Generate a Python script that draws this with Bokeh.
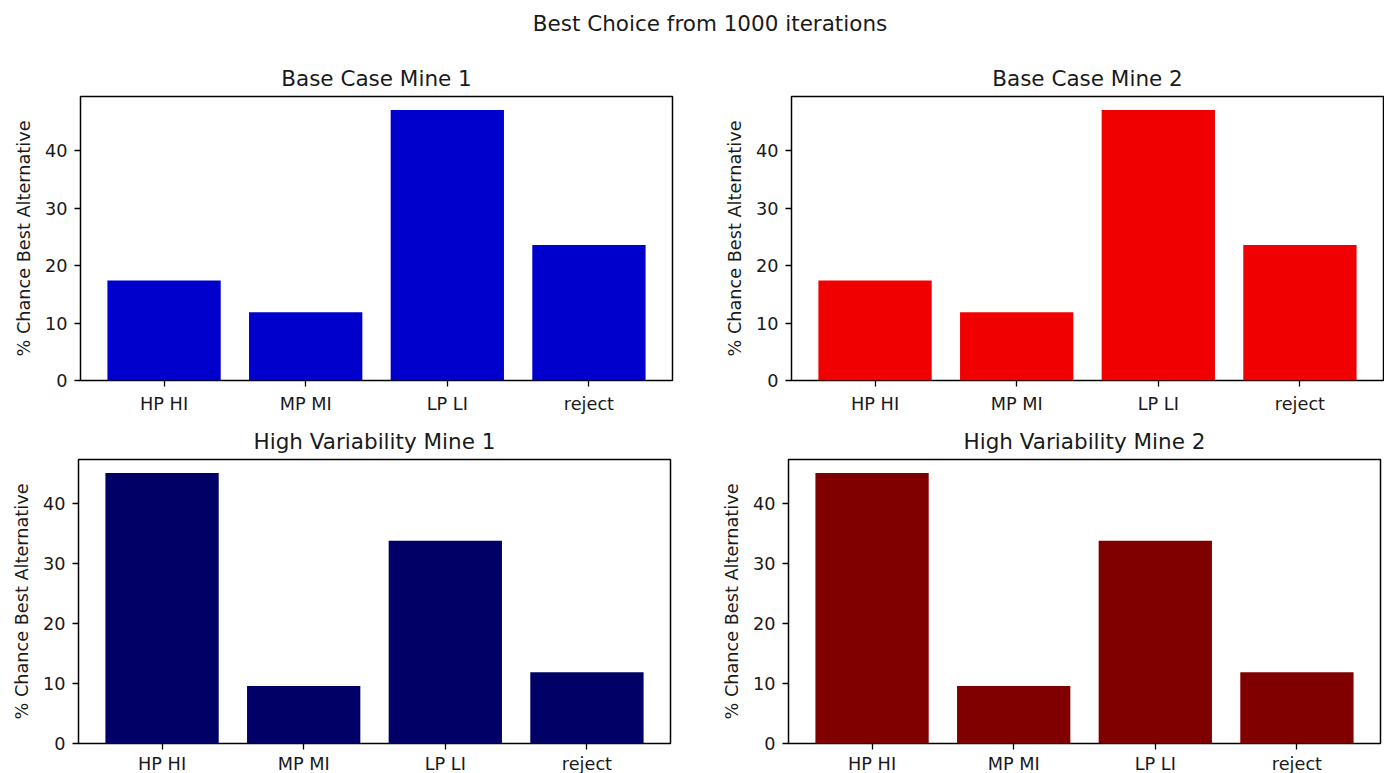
from bokeh.plotting import figure
from bokeh.models import Range1d, FixedTicker, Div
from bokeh.layouts import column, row
from bokeh.embed import file_html
from bokeh.resources import INLINE

categories = ["HP HI", "MP MI", "LP LI", "reject"]
base_mine1 = [17.4, 11.9, 47.1, 23.6]
base_mine2 = [17.4, 11.9, 47.1, 23.6]
highvar_mine1 = [45.1, 9.6, 33.8, 11.9]
highvar_mine2 = [45.1, 9.6, 33.8, 11.9]
y_ticks = [0, 10, 20, 30, 40]

FONT = "DejaVu Sans"
TXT = "#1a1a1a"


def make(title, values, color, ml, mr, mt, mb, xstand):
    x = list(range(len(categories)))
    p = figure(frame_width=592, frame_height=284, output_backend="svg",
               toolbar_location=None, tools="",
               x_range=Range1d(-0.59, len(categories) - 1 + 0.59),
               y_range=Range1d(0, max(values) * 1.05),
               min_border_left=ml, min_border_right=mr,
               min_border_top=mt, min_border_bottom=mb)
    p.vbar(x=x, top=values, width=0.8, bottom=0, fill_color=color, line_color=None)
    p.title.text = title
    p.title.align = "center"
    p.title.text_font = FONT
    p.title.text_font_size = "21.5px"
    p.title.text_font_style = "normal"
    p.title.text_color = TXT
    p.title.standoff = 12
    p.xgrid.visible = False
    p.ygrid.visible = False
    p.outline_line_color = "black"
    p.outline_line_width = 1.5
    p.outline_line_alpha = 1.0
    p.background_fill_color = "white"
    p.border_fill_color = "white"
    p.xaxis.ticker = FixedTicker(ticks=x)
    p.xaxis.major_label_overrides = {i: c for i, c in enumerate(categories)}
    p.yaxis.ticker = FixedTicker(ticks=y_ticks)
    p.yaxis.axis_label = "% Chance Best Alternative"
    for ax in (p.xaxis[0], p.yaxis[0]):
        ax.axis_line_color = None
        ax.major_tick_out = 6
        ax.major_tick_in = 0
        ax.major_tick_line_color = "black"
        ax.major_tick_line_width = 1.3
        ax.minor_tick_line_color = None
        ax.major_label_text_font = FONT
        ax.major_label_text_font_size = "17.7px"
        ax.major_label_text_color = TXT
        ax.major_label_standoff = 7
        ax.axis_label_text_font = FONT
        ax.axis_label_text_font_size = "17.7px"
        ax.axis_label_text_font_style = "normal"
        ax.axis_label_text_color = TXT
        ax.axis_label_standoff = 8
    p.xaxis[0].major_label_standoff = xstand
    return p


p1 = make("Base Case Mine 1", base_mine1, "#0000CC", 80, 47, 48, 40, 7)
p2 = make("Base Case Mine 2", base_mine2, "#F00000", 72, 1, 48, 40, 7)
p3 = make("High Variability Mine 1", highvar_mine1, "#000066", 78, 46, 38, 31, 4)
p4 = make("High Variability Mine 2", highvar_mine2, "#800000", 72, 4, 38, 31, 4)

title = Div(text="Best Choice from 1000 iterations", width=1384, height=48,
            margin=(0, 0, 0, 0),
            styles={"font-family": FONT, "font-size": "21.5px", "color": TXT,
                    "text-align": "center", "padding-top": "11px",
                    "padding-left": "36px", "box-sizing": "border-box",
                    "width": "1384px", "line-height": "1.164"})

layout = column(title, row(p1, p2, spacing=0), row(p3, p4, spacing=0), spacing=0)

open("out.html", "w").write(file_html(layout, INLINE))
